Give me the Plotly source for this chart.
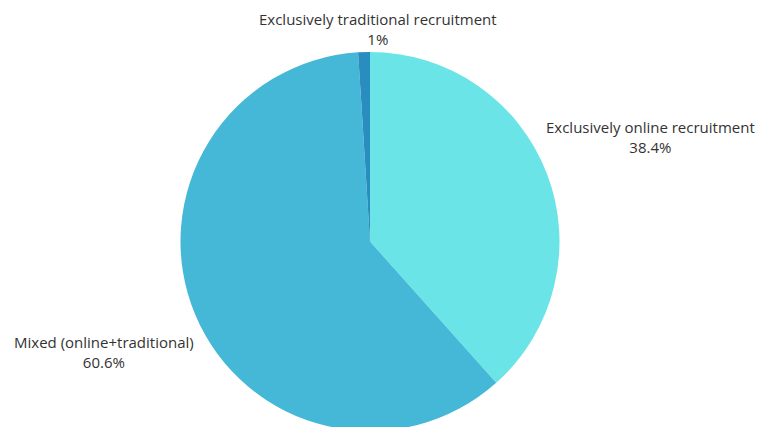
import plotly.graph_objects as go

labels = ["Exclusively online recruitment", "Mixed (online+traditional)", "Exclusively traditional recruitment"]
values = [38.4, 60.6, 1.0]
value_text = ["38.4%", "60.6%", "1%"]
colors = ["#6be4e8", "#44b8d6", "#2a8dbf"]

W, H = 763, 427
OFF = 8  # page body margin offset
# label block centers in screen pixels
label_pos = [(650, 137), (104, 352), (378, 29)]

cx, top, r = 370 - OFF, 52 - OFF, 189.5
fig = go.Figure(go.Pie(
    labels=labels,
    values=values,
    sort=False,
    direction="clockwise",
    rotation=0,
    marker=dict(colors=colors, line=dict(width=0)),
    textinfo="none",
    hoverinfo="label+percent",
    showlegend=False,
    domain=dict(x=[(cx - r - 20) / W, (cx + r + 20) / W],
                y=[(H - (top + 2 * r)) / H, (H - top) / H]),
))

annotations = []
for lab, vt, (px, py) in zip(labels, value_text, label_pos):
    annotations.append(dict(
        x=(px - OFF) / W, y=1 - (py - OFF) / H, xref="paper", yref="paper",
        text=f"{lab}<br>{vt}", showarrow=False, align="center",
        xanchor="center", yanchor="middle",
        font=dict(family="Open Sans", size=15, color="#333333"),
    ))

fig.update_layout(
    width=W, height=H,
    margin=dict(l=0, r=0, t=0, b=0),
    paper_bgcolor="white",
    plot_bgcolor="white",
    annotations=annotations,
)

fig.write_html("out.html")
